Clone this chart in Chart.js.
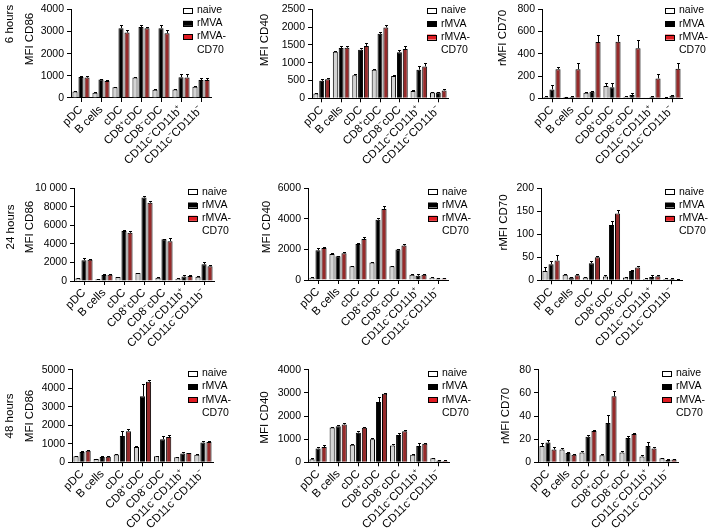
<!DOCTYPE html>
<html>
<head>
<meta charset="utf-8">
<script src="https://cdn.jsdelivr.net/npm/chart.js@4/dist/chart.umd.min.js"></script>
<style>
  html, body { margin: 0; padding: 0; background: #fff; }
  #wrap { position: relative; width: 709px; height: 530px; }
  #wrap canvas { position: absolute; left: 0; top: 0; }
</style>
</head>
<body>
<div id="wrap"></div>
<script>
const FONT = "'Liberation Sans', Arial, Helvetica, sans-serif";

const categories = ['pDC', 'B cells', 'cDC', 'CD8\u207AcDC', 'CD8\u207BcDC', 'CD11c\u207BCD11b\u207A', 'CD11c\u207BCD11b\u207B'];
const seriesNames = ['naive', 'rMVA', 'rMVA-CD70'];
const timeLabels = ['6 hours', '24 hours', '48 hours'];
const markerTitles = ['MFI CD86', 'MFI CD40', 'rMFI CD70'];

// 6 hours
const cd86_6h_naive = [290, 240, 480, 920, 370, 380, 510];
const cd86_6h_rmva = [950, 830, 3150, 3200, 3150, 940, 810];
const cd86_6h_cd70 = [920, 770, 2950, 3150, 2920, 930, 810];
const cd86_6h_naive_err = [30, 20, 30, 30, 30, 30, 30];
const cd86_6h_rmva_err = [50, 20, 120, 80, 130, 150, 100];
const cd86_6h_cd70_err = [70, 30, 120, 60, 130, 130, 70];
const cd86_6h_ticks = ['0', '1000', '2000', '3000', '4000'];

const cd40_6h_naive = [135, 1310, 645, 805, 625, 205, 165];
const cd40_6h_rmva = [490, 1410, 1365, 1810, 1295, 805, 165];
const cd40_6h_cd70 = [535, 1420, 1470, 1990, 1385, 895, 220];
const cd40_6h_naive_err = [20, 30, 30, 30, 30, 20, 20];
const cd40_6h_rmva_err = [40, 60, 60, 60, 70, 90, 20];
const cd40_6h_cd70_err = [30, 60, 70, 70, 80, 90, 40];
const cd40_6h_ticks = ['0', '500', '1000', '1500', '2000', '2500'];

const cd70_6h_naive = [12, 12, 50, 110, 15, 2, 8];
const cd70_6h_rmva = [80, 12, 58, 100, 30, 15, 22];
const cd70_6h_cd70 = [262, 262, 505, 508, 450, 178, 265];
const cd70_6h_naive_err = [12, 3, 10, 30, 5, 1, 5];
const cd70_6h_rmva_err = [40, 5, 10, 35, 15, 10, 10];
const cd70_6h_cd70_err = [20, 55, 65, 65, 75, 40, 55];
const cd70_6h_ticks = ['0', '200', '400', '600', '800'];

// 24 hours
const cd86_24h_naive = [300, 200, 420, 850, 350, 250, 450];
const cd86_24h_rmva = [2250, 650, 5400, 9000, 4500, 480, 1800];
const cd86_24h_cd70 = [2300, 680, 5200, 8450, 4300, 530, 1600];
const cd86_24h_naive_err = [60, 40, 50, 60, 60, 40, 60];
const cd86_24h_rmva_err = [200, 80, 150, 150, 80, 150, 200];
const cd86_24h_cd70_err = [100, 80, 200, 150, 300, 100, 100];
const cd86_24h_ticks = ['0', '2000', '4000', '6000', '8000', '10 000'];

const cd40_24h_naive = [150, 1700, 900, 1150, 900, 350, 150];
const cd40_24h_rmva = [1950, 1550, 2350, 3950, 2000, 280, 100];
const cd40_24h_cd70 = [2100, 1750, 2680, 4650, 2250, 350, 100];
const cd40_24h_naive_err = [30, 50, 40, 30, 40, 60, 30];
const cd40_24h_rmva_err = [120, 50, 60, 100, 60, 80, 30];
const cd40_24h_cd70_err = [80, 60, 150, 200, 120, 60, 20];
const cd40_24h_ticks = ['0', '2000', '4000', '6000'];

const cd70_24h_naive = [20, 12, 6, 8, 6, 3, 3];
const cd70_24h_rmva = [35, 6, 37, 120, 20, 7, 3];
const cd70_24h_cd70 = [43, 11, 50, 145, 28, 9, 1];
const cd70_24h_naive_err = [8, 2, 2, 4, 2, 1, 1];
const cd70_24h_rmva_err = [6, 2, 4, 8, 3, 4, 2];
const cd70_24h_cd70_err = [12, 2, 2, 7, 4, 2, 1];
const cd70_24h_ticks = ['0', '50', '100', '150', '200'];

// 48 hours
const cd86_48h_naive = [330, 180, 420, 820, 320, 270, 410];
const cd86_48h_rmva = [560, 280, 1420, 3560, 1250, 480, 1070];
const cd86_48h_cd70 = [620, 300, 1680, 4350, 1360, 500, 1100];
const cd86_48h_naive_err = [30, 20, 40, 40, 40, 30, 30];
const cd86_48h_rmva_err = [40, 40, 250, 650, 150, 50, 80];
const cd86_48h_cd70_err = [60, 30, 100, 100, 100, 20, 40];
const cd86_48h_ticks = ['0', '1000', '2000', '3000', '4000', '5000'];

const cd40_48h_naive = [130, 1500, 760, 1000, 730, 330, 170];
const cd40_48h_rmva = [600, 1560, 1280, 2600, 1180, 700, 80];
const cd40_48h_cd70 = [660, 1630, 1490, 2960, 1340, 800, 60];
const cd40_48h_naive_err = [40, 40, 30, 30, 40, 30, 30];
const cd40_48h_rmva_err = [40, 40, 80, 200, 80, 150, 20];
const cd40_48h_cd70_err = [100, 50, 50, 40, 50, 30, 20];
const cd40_48h_ticks = ['0', '1000', '2000', '3000', '4000'];

const cd70_48h_naive = [14, 11, 8.5, 6, 8.5, 5, 3.5];
const cd70_48h_rmva = [17, 8, 22, 34, 21, 14, 2];
const cd70_48h_cd70 = [11, 6.5, 27, 57, 24.5, 12, 2.5];
const cd70_48h_naive_err = [3, 1, 1, 1, 1.5, 1, 0.5];
const cd70_48h_rmva_err = [2.5, 1, 2, 7, 1.5, 3.5, 0.5];
const cd70_48h_cd70_err = [2, 1, 0.5, 5, 1, 1.5, 0.5];
const cd70_48h_ticks = ['0', '20', '40', '60', '80'];

// look
const barFills = ['#d4d4d4', '#000000', '#962a2a'];
const legendFills = ['#ffffff', '#000000', '#e01b22'];

// area = [left, top, right, bottom] of the plot, page pixels
const panels = [
  { values: [cd86_6h_naive, cd86_6h_rmva, cd86_6h_cd70], errors: [cd86_6h_naive_err, cd86_6h_rmva_err, cd86_6h_cd70_err],
    ticks: cd86_6h_ticks, title: markerTitles[0], row: timeLabels[0],
    area: [71, 4.5, 211, 98], titleX: 30, titleY: 39, rowX: 10, rowY: 24, legendX: 183, legendY: 10 },
  { values: [cd40_6h_naive, cd40_6h_rmva, cd40_6h_cd70], errors: [cd40_6h_naive_err, cd40_6h_rmva_err, cd40_6h_cd70_err],
    ticks: cd40_6h_ticks, title: markerTitles[1],
    area: [312, 5, 448, 98.3], titleX: 265, titleY: 40, legendX: 427, legendY: 10.5 },
  { values: [cd70_6h_naive, cd70_6h_rmva, cd70_6h_cd70], errors: [cd70_6h_naive_err, cd70_6h_rmva_err, cd70_6h_cd70_err],
    ticks: cd70_6h_ticks, title: markerTitles[2],
    area: [542, 5, 682, 98.3], titleX: 503, titleY: 38, legendX: 665, legendY: 10.5 },

  { values: [cd86_24h_naive, cd86_24h_rmva, cd86_24h_cd70], errors: [cd86_24h_naive_err, cd86_24h_rmva_err, cd86_24h_cd70_err],
    ticks: cd86_24h_ticks, title: markerTitles[0], row: timeLabels[1],
    area: [74, 188.3, 214, 281], titleX: 30, titleY: 227, rowX: 10.5, rowY: 227, legendX: 188, legendY: 191.7 },
  { values: [cd40_24h_naive, cd40_24h_rmva, cd40_24h_cd70], errors: [cd40_24h_naive_err, cd40_24h_rmva_err, cd40_24h_cd70_err],
    ticks: cd40_24h_ticks, title: markerTitles[1],
    area: [308, 188.3, 448, 280], titleX: 267, titleY: 227, legendX: 428, legendY: 191.7 },
  { values: [cd70_24h_naive, cd70_24h_rmva, cd70_24h_cd70], errors: [cd70_24h_naive_err, cd70_24h_rmva_err, cd70_24h_cd70_err],
    ticks: cd70_24h_ticks, title: markerTitles[2],
    area: [541, 188.3, 682, 280.3], titleX: 504, titleY: 222.5, legendX: 665, legendY: 191.7 },

  { values: [cd86_48h_naive, cd86_48h_rmva, cd86_48h_cd70], errors: [cd86_48h_naive_err, cd86_48h_rmva_err, cd86_48h_cd70_err],
    ticks: cd86_48h_ticks, title: markerTitles[0], row: timeLabels[2],
    area: [72, 369.7, 213, 462.3], titleX: 30, titleY: 416, rowX: 10, rowY: 416, legendX: 188, legendY: 373.3 },
  { values: [cd40_48h_naive, cd40_48h_rmva, cd40_48h_cd70], errors: [cd40_48h_naive_err, cd40_48h_rmva_err, cd40_48h_cd70_err],
    ticks: cd40_48h_ticks, title: markerTitles[1],
    area: [308, 369.7, 449, 462.3], titleX: 265, titleY: 417.5, legendX: 428, legendY: 373.3 },
  { values: [cd70_48h_naive, cd70_48h_rmva, cd70_48h_cd70], errors: [cd70_48h_naive_err, cd70_48h_rmva_err, cd70_48h_cd70_err],
    ticks: cd70_48h_ticks, title: markerTitles[2],
    area: [538, 369.7, 678, 462.3], titleX: 506, titleY: 416, legendX: 662, legendY: 373.3 }
];

// error bars, axis title, row label and legend
const panelDecor = {
  id: 'panelDecor',
  afterDatasetsDraw(chart, args, opts) {
    const ctx = chart.ctx;
    const yScale = chart.scales.y;
    ctx.save();
    ctx.strokeStyle = '#000';
    ctx.lineWidth = 1;
    chart.data.datasets.forEach((ds, i) => {
      chart.getDatasetMeta(i).data.forEach((bar, j) => {
        const top = Math.round(yScale.getPixelForValue(ds.data[j] + ds.errors[j])) + 0.5;
        const x = Math.round(bar.x) + 0.5;
        ctx.beginPath();
        ctx.moveTo(x, bar.y);
        ctx.lineTo(x, top);
        ctx.moveTo(x - 1.5, top);
        ctx.lineTo(x + 1.5, top);
        ctx.stroke();
      });
    });

    ctx.fillStyle = '#000';
    ctx.textAlign = 'center';
    ctx.textBaseline = 'middle';
    ctx.font = '11.5px ' + FONT;
    const vText = (txt, x, y) => {
      ctx.save();
      ctx.translate(x, y);
      ctx.rotate(-Math.PI / 2);
      ctx.fillText(txt, 0, 0);
      ctx.restore();
    };
    vText(opts.title, opts.titleX, opts.titleY);
    if (opts.row) vText(opts.row, opts.rowX, opts.rowY);

    // legend
    ctx.font = '10.5px ' + FONT;
    ctx.textAlign = 'left';
    const step = 13.3;
    seriesNames.forEach((name, i) => {
      const y = opts.legendY + i * step;
      ctx.fillStyle = legendFills[i];
      ctx.fillRect(opts.legendX, y - 2.5, 9, 5);
      ctx.strokeRect(opts.legendX + 0.5, Math.round(y - 2.5) + 0.5, 9, 5);
      ctx.fillStyle = '#000';
      if (name === 'rMVA-CD70') {
        ctx.fillText('rMVA-', opts.legendX + 14, y);
        ctx.fillText('CD70', opts.legendX + 14, y + step);
      } else {
        ctx.fillText(name, opts.legendX + 14, y);
      }
    });
    ctx.restore();
  }
};

const wrap = document.getElementById('wrap');
const Y_WIDTH = 40;

panels.forEach(p => {
  const canvas = document.createElement('canvas');
  canvas.width = 709;
  canvas.height = 530;
  wrap.appendChild(canvas);
  const [L, T, R, B] = p.area;
  const xHeight = Math.min(80, 530 - B);
  const tickNums = p.ticks.map(t => parseFloat(t.replace(/\s/g, '')));

  new Chart(canvas, {
    type: 'bar',
    data: {
      labels: categories,
      datasets: seriesNames.map((name, i) => ({
        label: name,
        data: p.values[i],
        errors: p.errors[i],
        backgroundColor: barFills[i],
        borderColor: '#000',
        borderWidth: 1
      }))
    },
    options: {
      responsive: false,
      animation: false,
      devicePixelRatio: 1,
      layout: { padding: { left: L - Y_WIDTH, top: T, right: 709 - R, bottom: 530 - B - xHeight } },
      datasets: { bar: { categoryPercentage: 0.9, barPercentage: 0.85 } },
      plugins: {
        legend: { display: false },
        tooltip: { enabled: false },
        panelDecor: {
          title: p.title, titleX: p.titleX, titleY: p.titleY,
          row: p.row, rowX: p.rowX, rowY: p.rowY,
          legendX: p.legendX, legendY: p.legendY
        }
      },
      scales: {
        x: {
          grid: { offset: false, drawOnChartArea: false, color: '#000', tickLength: 4 },
          border: { color: '#000', width: 1 },
          ticks: {
            color: '#000', font: { family: FONT, size: 11.5 },
            minRotation: 45, maxRotation: 45, autoSkip: false, padding: 1
          },
          afterFit: s => { s.height = xHeight; }
        },
        y: {
          min: 0,
          max: tickNums[tickNums.length - 1],
          grid: { drawOnChartArea: false, color: '#000', tickLength: 4 },
          border: { color: '#000', width: 1 },
          ticks: {
            stepSize: tickNums[1] - tickNums[0],
            color: '#000', font: { family: FONT, size: 10.5 }, padding: 3,
            callback: (v, i) => p.ticks[i]
          },
          afterFit: s => { s.width = Y_WIDTH; }
        }
      }
    },
    plugins: [panelDecor]
  });
});
</script>
</body>
</html>
